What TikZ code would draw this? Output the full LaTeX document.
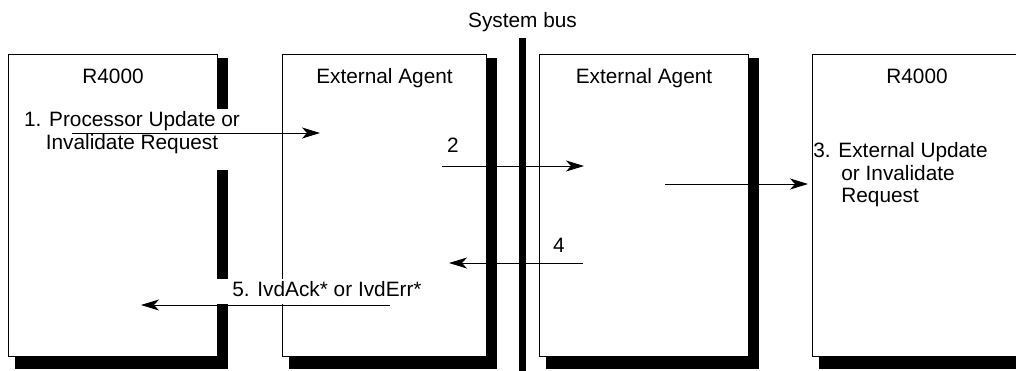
\documentclass[tikz,border=0pt]{standalone}
\usepackage{fontspec}
\setmainfont{Liberation Sans}
\usetikzlibrary{arrows.meta, positioning, backgrounds, calc}

\begin{document}
\begin{tikzpicture}[
  x=0.5pt, y=-0.5pt,
  every node/.style={font=\fontsize{10.4pt}{11.3pt}\selectfont},
  unit/.style={draw, fill=white, line width=0.5pt, inner sep=0pt, anchor=north west,
    minimum height=151pt},
  dropfill/.style={fill=black},
  cover/.style={fill=white, inner sep=1pt},
  msg/.style={-{Stealth[length=9pt, width=5.5pt, inset=2.5pt]}, line width=0.5pt},
]
  \useasboundingbox (0,0) rectangle (1016,370);

  % the four units and the bus
  \node (b1) [unit, minimum width=104.5pt] at (8,54) {};
  \node (b2) [unit, minimum width=102pt] at (282,54) {};
  \node (b3) [unit, minimum width=104.5pt] at (539,54) {};
  \node (b4) [unit, minimum width=104.5pt] at (812,54) {};
  \begin{scope}[on background layer]
    \foreach \b in {b1,b2,b3,b4}
      \fill[dropfill] ([shift={(7,4)}]\b.north west) rectangle ([shift={(10,12)}]\b.south east);
  \end{scope}
  \node (bus) [fill=black, inner sep=0pt, minimum width=3.5pt, minimum height=170pt,
    anchor=north] at (522.5,38) {};
  \node (buslabel) [anchor=base] at (522.5,27) {System bus};

  \node (t1) [anchor=base] at ($(b1.north)+(0,29)$) {R4000};
  \node (t2) [anchor=base] at ($(b2.north)+(0,29)$) {External Agent};
  \node (t3) [anchor=base] at ($(b3.north)+(0,29)$) {External Agent};
  \node (t4) [anchor=base] at ($(b4.north)+(0,29)$) {R4000};

  % message labels
  \node (l1) [cover, anchor=north, align=center, text depth=9.5pt] at (132,109)
    {1. Processor Update or\\Invalidate Request};
  \node (l2) [anchor=base] at (453,152) {2};
  \node (l3) [inner sep=0pt, anchor=north west, align=left] at (813,142)
    {3. External Update\\\hspace*{14pt}or Invalidate\\\hspace*{14pt}Request};
  \node (l4) [anchor=base] at (559,252) {4};
  \node (l5) [cover, inner xsep=8pt, text depth=3pt, anchor=base west] at (216,296)
    {5. IvdAck* or IvdErr*};

  % message arrows
  \coordinate (m1a) at (72,133);  \coordinate (m1b) at (320,133);
  \coordinate (m2a) at (442,166); \coordinate (m2b) at (584,166);
  \coordinate (m3a) at (665,184); \coordinate (m3b) at (808,184);
  \coordinate (m4a) at (583,263); \coordinate (m4b) at (449,263);
  \coordinate (m5a) at (390,305); \coordinate (m5b) at (141,305);
  \draw[msg] (m1a) -- (m1b);
  \draw[msg] (m2a) -- (m2b);
  \draw[msg] (m3a) -- (m3b);
  \draw[msg] (m4a) -- (m4b);
  \draw[msg] (m5a) -- (m5b);
\end{tikzpicture}
\end{document}
